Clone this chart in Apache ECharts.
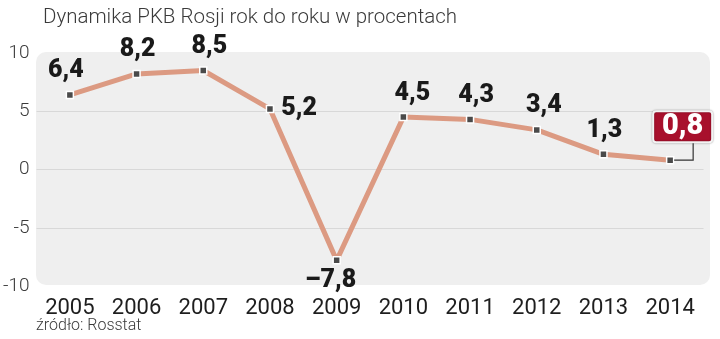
<!DOCTYPE html>
<html>
<head>
<meta charset="utf-8">
<script src="https://cdn.jsdelivr.net/npm/echarts@6/dist/echarts.min.js"></script>
<style>
  html, body { margin: 0; padding: 0; background: #fff; }
  #chart { width: 720px; height: 339px; }
</style>
</head>
<body>
<div id="chart"></div>
<script>
// Russian GDP, year-on-year change in percent
const years = ['2005', '2006', '2007', '2008', '2009', '2010', '2011', '2012', '2013', '2014'];
const growth = [6.4, 8.2, 8.5, 5.2, -7.8, 4.5, 4.3, 3.4, 1.3, 0.8];
const yTicks = { min: -10, max: 10, step: 5 };

const fmt = v => (v < 0 ? '\u2013' : '') + Math.abs(v).toFixed(1).replace('.', ',');

const heavySans = 'Roboto, sans-serif';
const lightSans = 'Roboto, sans-serif';

// per-point label placement (the last point gets a callout box instead)
const labelPlace = [
  { position: 'top', offset: [-4, 0] },
  { position: 'top', offset: [1, 0] },
  { position: 'top', offset: [6, 0] },
  { position: 'right', offset: [0, 0] },
  { position: 'bottom', offset: [-6, -3] },
  { position: 'top', offset: [9, 0] },
  { position: 'top', offset: [6, 0] },
  { position: 'top', offset: [7, 0] },
  { position: 'top', offset: [1, 0] },
  { show: false }
];

const lastIdx = growth.length - 1;
const seriesData = growth.map((v, i) => ({ value: v, label: labelPlace[i] }));

const chart = echarts.init(document.getElementById('chart'));
chart.setOption({
  animation: false,
  backgroundColor: '#fff',
  title: {
    text: 'Dynamika PKB Rosji rok do roku w procentach',
    left: 38,
    top: 2,
    textStyle: { fontFamily: lightSans, fontWeight: 300, fontSize: 20.5, color: '#3a3a3a' }
  },
  graphic: [
    {
      type: 'rect',
      z: -10,
      shape: { x: 36, y: 52, width: 674, height: 233, r: 10 },
      style: { fill: '#efefef' }
    },
    {
      type: 'text',
      left: 36,
      top: 318,
      style: { text: 'źródło: Rosstat', fontFamily: lightSans, fontWeight: 300, fontSize: 16, fill: '#3a3a3a' }
    }
  ],
  grid: { left: 34, right: 16.5, top: 53, bottom: 53 },
  xAxis: {
    type: 'category',
    data: years,
    boundaryGap: true,
    axisLine: { show: false },
    axisTick: { show: false },
    axisLabel: {
      margin: 11,
      fontFamily: lightSans,
      fontWeight: 400,
      fontSize: 22,
      color: '#1e1e1e'
    }
  },
  yAxis: {
    type: 'value',
    min: yTicks.min,
    max: yTicks.max,
    interval: yTicks.step,
    axisLine: { show: false },
    axisTick: { show: false },
    axisLabel: {
      margin: 7,
      fontFamily: lightSans,
      fontWeight: 300,
      fontSize: 19,
      color: '#3a3a3a'
    },
    splitLine: {
      lineStyle: { color: ['transparent', '#d8d8d8', '#d8d8d8', '#d8d8d8', 'transparent'], width: 1.2 }
    }
  },
  series: [
    {
      type: 'line',
      data: seriesData,
      symbol: 'rect',
      symbolSize: 7,
      z: 3,
      lineStyle: { color: '#dc9a82', width: 5 },
      itemStyle: { color: '#4a4a4a', borderColor: '#fff', borderWidth: 1.5 },
      label: {
        show: true,
        distance: 7,
        formatter: p => fmt(p.value),
        fontFamily: heavySans,
        fontWeight: 900,
        fontSize: 25,
        color: '#1a1a1a'
      }
    },
    {
      // callout for the latest year: red box with a bent leader line
      type: 'custom',
      z: 4,
      silent: true,
      data: [[lastIdx, growth[lastIdx]]],
      renderItem: (params, api) => {
        const p = api.coord([api.value(0), api.value(1)]);
        const x = p[0], y = p[1];
        return {
          type: 'group',
          children: [
            {
              type: 'polyline',
              shape: { points: [[x + 4, y], [x + 23, y], [x + 23, y - 19]] },
              style: { stroke: '#333', lineWidth: 1.2, fill: null }
            },
            {
              type: 'rect',
              shape: { x: x - 17, y: y - 49, width: 59, height: 31, r: 3 },
              style: {
                fill: '#a8102c', stroke: '#f3f3f3', lineWidth: 2,
                shadowColor: 'rgba(0,0,0,0.35)', shadowBlur: 2
              }
            },
            {
              type: 'text',
              style: {
                text: fmt(api.value(1)),
                x: x + 12.5, y: y - 33,
                align: 'center', verticalAlign: 'middle',
                fill: '#fff',
                fontFamily: heavySans, fontWeight: 900, fontSize: 29
              }
            }
          ]
        };
      }
    }
  ]
});
</script>
</body>
</html>
